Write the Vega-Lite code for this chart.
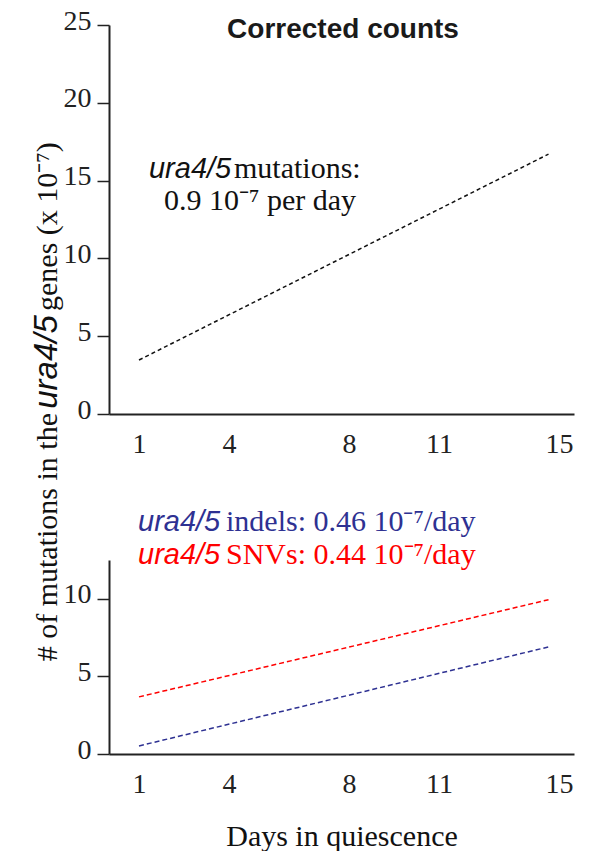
{
  "$schema": "https://vega.github.io/schema/vega-lite/v6.json",
  "padding": {"left": 31, "top": 7, "right": 5, "bottom": 5},
  "background": "white",
  "bounds": "flush",
  "spacing": 146,
  "config": {"view": {"stroke": null}, "axis": {"grid": false}},
  "datasets": {
    "overall": [
      {"day": 1, "count": 3.47},
      {"day": 14.65, "count": 16.7}
    ],
    "byType": [
      {"type": "indels", "day": 1, "count": 0.52},
      {"type": "indels", "day": 14.65, "count": 6.9},
      {"type": "SNVs", "day": 1, "count": 3.68},
      {"type": "SNVs", "day": 14.65, "count": 9.94}
    ]
  },
  "vconcat": [
    {
      "width": 465,
      "height": 389,
      "layer": [
        {
          "data": {"name": "overall"},
          "mark": {"type": "line", "color": "#111", "strokeWidth": 1.5, "strokeDash": [4, 3]},
          "encoding": {
            "x": {"field": "day", "type": "quantitative", "scale": {"domain": [0, 15.5], "nice": false, "zero": false},
              "axis": {"values": [1, 4, 8, 11, 15], "ticks": false, "tickSize": 0, "domainColor": "#222", "domainWidth": 2, "labelFont": "Liberation Serif", "labelFontSize": 28, "labelColor": "#222", "labelPadding": 16, "labelFlush": false, "labelOverlap": false, "title": null}},
            "y": {"field": "count", "type": "quantitative", "scale": {"domain": [0, 25], "nice": false},
              "axis": {"values": [0, 5, 10, 15, 20, 25], "tickSize": 12, "tickWidth": 1.5, "tickColor": "#222", "domainColor": "#222", "domainWidth": 2, "labelFont": "Liberation Serif", "labelFontSize": 28, "labelColor": "#222", "labelPadding": 6, "labelBaseline": "middle", "labelOffset": -4, "labelFlush": false, "labelOverlap": false, "title": null}}
          }
        },
        {
          "data": {"values": [{}]},
          "mark": {"type": "text", "text": "Corrected counts", "font": "Liberation Sans", "fontWeight": "bold", "fontSize": 28, "align": "center", "baseline": "alphabetic", "color": "#1a1a1a"},
          "encoding": {"x": {"datum": 7.8, "type": "quantitative"}, "y": {"datum": 24.16, "type": "quantitative"}}
        },
        {
          "data": {"values": [{}]},
          "mark": {"type": "text", "text": "ura4/5", "font": "Liberation Sans", "fontStyle": "italic", "fontSize": 29, "align": "left", "baseline": "alphabetic", "color": "#111"},
          "encoding": {"x": {"datum": 1.333, "type": "quantitative"}, "y": {"datum": 15.17, "type": "quantitative"}}
        },
        {
          "data": {"values": [{}]},
          "mark": {"type": "text", "text": "mutations:", "font": "Liberation Serif", "fontSize": 30, "align": "left", "baseline": "alphabetic", "color": "#111"},
          "encoding": {"x": {"datum": 4.167, "type": "quantitative"}, "y": {"datum": 15.17, "type": "quantitative"}}
        },
        {
          "data": {"values": [{}]},
          "mark": {"type": "text", "text": "0.9 10⁻⁷ per day", "font": "Liberation Serif", "fontSize": 30, "align": "left", "baseline": "alphabetic", "color": "#111"},
          "encoding": {"x": {"datum": 1.833, "type": "quantitative"}, "y": {"datum": 13.11, "type": "quantitative"}}
        },
        {
          "data": {"values": [{}]},
          "mark": {"type": "text", "text": "# of mutations in the", "font": "Liberation Serif", "fontSize": 30, "angle": 270, "align": "right", "baseline": "alphabetic", "color": "#111"},
          "encoding": {"x": {"datum": -1.717, "type": "quantitative"}, "y": {"datum": 0.064, "type": "quantitative"}}
        },
        {
          "data": {"values": [{}]},
          "mark": {"type": "text", "text": "ura4/5", "font": "Liberation Sans", "fontStyle": "italic", "fontSize": 33, "angle": 270, "align": "center", "baseline": "alphabetic", "color": "#111"},
          "encoding": {"x": {"datum": -1.717, "type": "quantitative"}, "y": {"datum": 3.34, "type": "quantitative"}}
        },
        {
          "data": {"values": [{}]},
          "mark": {"type": "text", "text": "genes (x 10⁻⁷)", "font": "Liberation Serif", "fontSize": 30, "angle": 270, "align": "left", "baseline": "alphabetic", "color": "#111"},
          "encoding": {"x": {"datum": -1.717, "type": "quantitative"}, "y": {"datum": 6.62, "type": "quantitative"}}
        }
      ]
    },
    {
      "width": 465,
      "height": 194,
      "layer": [
        {
          "data": {"name": "byType"},
          "mark": {"type": "line", "strokeWidth": 1.5, "strokeDash": [5, 3]},
          "encoding": {
            "x": {"field": "day", "type": "quantitative", "scale": {"domain": [0, 15.5], "nice": false, "zero": false},
              "axis": {"values": [1, 4, 8, 11, 15], "ticks": false, "tickSize": 0, "domainColor": "#222", "domainWidth": 2, "labelFont": "Liberation Serif", "labelFontSize": 28, "labelColor": "#222", "labelPadding": 16, "labelFlush": false, "labelOverlap": false,
                "title": "Days in quiescence", "titleFont": "Liberation Serif", "titleFontSize": 30, "titleFontWeight": "normal", "titleColor": "#111", "titleY": 91, "titleBaseline": "alphabetic"}},
            "y": {"field": "count", "type": "quantitative", "scale": {"domain": [0, 12.5], "nice": false},
              "axis": {"values": [0, 5, 10], "tickSize": 12, "tickWidth": 1.5, "tickColor": "#222", "domainColor": "#222", "domainWidth": 2, "labelFont": "Liberation Serif", "labelFontSize": 28, "labelColor": "#222", "labelPadding": 6, "labelBaseline": "middle", "labelOffset": -4, "labelFlush": false, "labelOverlap": false, "title": null}},
            "color": {"field": "type", "type": "nominal", "scale": {"domain": ["indels", "SNVs"], "range": ["#2e3192", "#ff0000"]}, "legend": null}
          }
        },
        {
          "data": {"values": [{}]},
          "mark": {"type": "text", "text": "ura4/5", "font": "Liberation Sans", "fontStyle": "italic", "fontSize": 29, "align": "left", "baseline": "alphabetic", "color": "#2e3192"},
          "encoding": {"x": {"datum": 0.967, "type": "quantitative"}, "y": {"datum": 14.37, "type": "quantitative"}}
        },
        {
          "data": {"values": [{}]},
          "mark": {"type": "text", "text": "indels: 0.46 10⁻⁷/day", "font": "Liberation Serif", "fontSize": 30, "align": "left", "baseline": "alphabetic", "color": "#2e3192"},
          "encoding": {"x": {"datum": 3.9, "type": "quantitative"}, "y": {"datum": 14.37, "type": "quantitative"}}
        },
        {
          "data": {"values": [{}]},
          "mark": {"type": "text", "text": "ura4/5", "font": "Liberation Sans", "fontStyle": "italic", "fontSize": 29, "align": "left", "baseline": "alphabetic", "color": "#ff0000"},
          "encoding": {"x": {"datum": 0.967, "type": "quantitative"}, "y": {"datum": 12.24, "type": "quantitative"}}
        },
        {
          "data": {"values": [{}]},
          "mark": {"type": "text", "text": "SNVs: 0.44 10⁻⁷/day", "font": "Liberation Serif", "fontSize": 30, "align": "left", "baseline": "alphabetic", "color": "#ff0000"},
          "encoding": {"x": {"datum": 3.9, "type": "quantitative"}, "y": {"datum": 12.24, "type": "quantitative"}}
        }
      ]
    }
  ]
}
